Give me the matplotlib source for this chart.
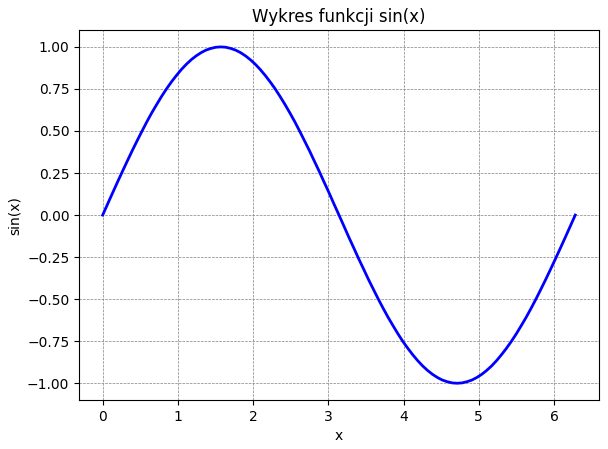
import matplotlib
matplotlib.use("Agg")
from matplotlib import pyplot as plt

# punkty
x = [0.000, 0.065, 0.131, 0.196, 0.262, 0.327, 0.393, 0.458, 0.524, 0.589, 0.654, 0.720,
     0.785, 0.851, 0.916, 0.982, 1.047, 1.113, 1.178, 1.244, 1.309, 1.374, 1.440, 1.505,
     1.571, 1.636, 1.702, 1.767, 1.833, 1.898, 1.963, 2.029, 2.094, 2.160, 2.225, 2.291,
     2.356, 2.422, 2.487, 2.553, 2.618, 2.683, 2.749, 2.814, 2.880, 2.945, 3.011, 3.076,
     3.142, 3.207, 3.272, 3.338, 3.403, 3.469, 3.534, 3.600, 3.665, 3.731, 3.796, 3.862,
     3.927, 3.992, 4.058, 4.123, 4.189, 4.254, 4.320, 4.385, 4.451, 4.516, 4.581, 4.647,
     4.712, 4.778, 4.843, 4.909, 4.974, 5.040, 5.105, 5.171, 5.236, 5.301, 5.367, 5.432,
     5.498, 5.563, 5.629, 5.694, 5.760, 5.825, 5.890, 5.956, 6.021, 6.087, 6.152, 6.218,
     6.283]
y = [0.0, 0.065, 0.131, 0.195, 0.259, 0.321, 0.383, 0.442, 0.5, 0.556, 0.609, 0.659,
     0.707, 0.752, 0.793, 0.831, 0.866, 0.897, 0.924, 0.947, 0.966, 0.981, 0.991, 0.998,
     1.0, 0.998, 0.991, 0.981, 0.966, 0.947, 0.924, 0.897, 0.866, 0.831, 0.793, 0.752,
     0.707, 0.659, 0.609, 0.556, 0.5, 0.442, 0.383, 0.321, 0.259, 0.195, 0.131, 0.065,
     0.0, -0.065, -0.131, -0.195, -0.259, -0.321, -0.383, -0.442, -0.5, -0.556, -0.609, -0.659,
     -0.707, -0.752, -0.793, -0.831, -0.866, -0.897, -0.924, -0.947, -0.966, -0.981, -0.991, -0.998,
     -1.0, -0.998, -0.991, -0.981, -0.966, -0.947, -0.924, -0.897, -0.866, -0.831, -0.793, -0.752,
     -0.707, -0.659, -0.609, -0.556, -0.5, -0.442, -0.383, -0.321, -0.259, -0.195, -0.131, -0.065,
     0.0]

fig = plt.figure(figsize=(6.08, 4.49), dpi=100)
plt.subplots_adjust(left=0.130, right=0.985, top=0.933, bottom=0.109)

plt.plot(x, y, color="blue", linewidth=2)
plt.title("Wykres funkcji sin(x)")
plt.xlabel("x")
plt.ylabel("sin(x)")
plt.grid(True, linestyle="--", linewidth=0.5, color="gray")

plt.savefig("out.png", dpi=100)
